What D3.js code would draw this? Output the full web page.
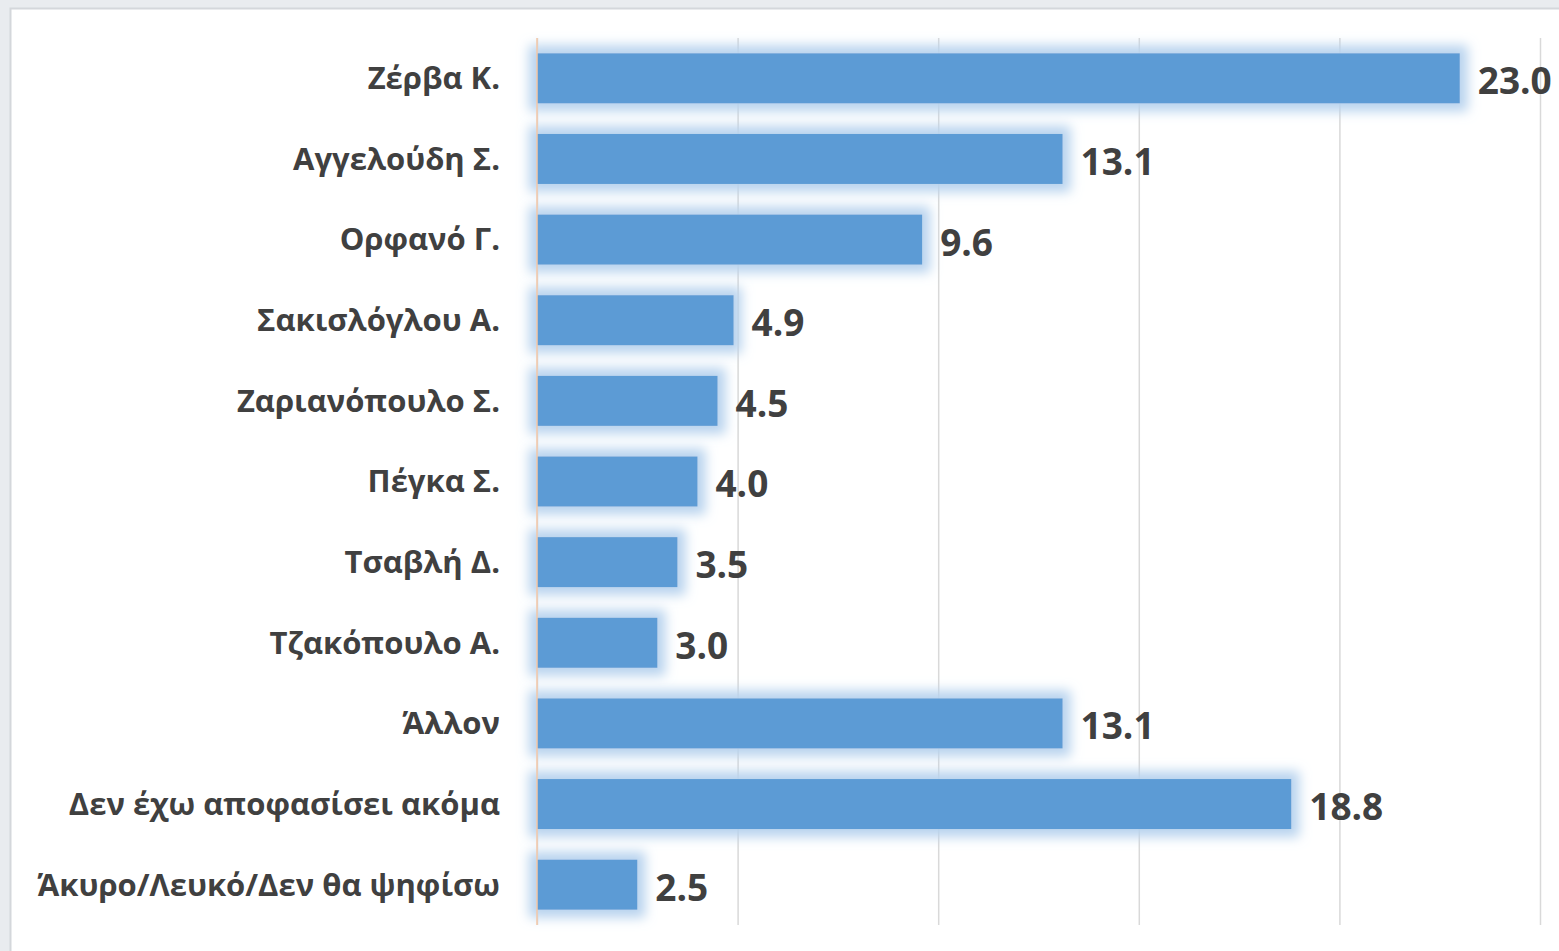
<!DOCTYPE html>
<html>
<head>
<meta charset="utf-8">
<script src="https://cdn.jsdelivr.net/npm/d3@7"></script>
<style>
  body { margin: 0; background: #e9ecef; }
  svg { display: block; }
</style>
</head>
<body>
<div id="chart"></div>
<script>
// Chart data
var names = ["Ζέρβα Κ.", "Αγγελούδη Σ.", "Ορφανό Γ.", "Σακισλόγλου Α.", "Ζαριανόπουλο Σ.",
  "Πέγκα Σ.", "Τσαβλή Δ.", "Τζακόπουλο Α.", "Άλλον", "Δεν έχω αποφασίσει ακόμα",
  "Άκυρο/Λευκό/Δεν θα ψηφίσω"];
var values = [23.0, 13.1, 9.6, 4.9, 4.5, 4.0, 3.5, 3.0, 13.1, 18.8, 2.5];
var gridTicks = [0, 5, 10, 15, 20, 25];

var width = 1559;
var height = 951;

var svg = d3.select("#chart")
  .append("svg")
  .attr("width", width)
  .attr("height", height);

// glow behind bars
var defs = svg.append("defs");
var glow = defs.append("filter")
  .attr("id", "glow")
  .attr("x", "-20%").attr("y", "-80%")
  .attr("width", "140%").attr("height", "260%");
glow.append("feMorphology")
  .attr("in", "SourceAlpha").attr("operator", "dilate").attr("radius", 8)
  .attr("result", "fat");
glow.append("feGaussianBlur").attr("in", "fat").attr("stdDeviation", 6).attr("result", "blur");
glow.append("feFlood").attr("flood-color", "#b8d3ee").attr("flood-opacity", 1);
glow.append("feComposite").attr("in2", "blur").attr("operator", "in").attr("result", "halo");
var merge = glow.append("feMerge");
merge.append("feMergeNode").attr("in", "halo");
merge.append("feMergeNode").attr("in", "SourceGraphic");

// white panel
svg.append("rect")
  .attr("x", 10.5).attr("y", 8.5)
  .attr("width", width).attr("height", height)
  .attr("fill", "#ffffff")
  .attr("stroke", "#d4d7db")
  .attr("stroke-width", 2);

var x = d3.scaleLinear().domain([0, 25]).range([537, 1540]);
var y = d3.scaleBand().domain(names).range([38, 925]).paddingInner(0.38).paddingOuter(0.19);

// gridlines
svg.append("g")
  .selectAll("line")
  .data(gridTicks)
  .enter()
  .append("line")
  .attr("x1", function(d) { return x(d) + 0.5; })
  .attr("x2", function(d) { return x(d) + 0.5; })
  .attr("y1", 38)
  .attr("y2", 925)
  .attr("stroke", "#d9d9d9")
  .attr("stroke-width", 1.5);

// bars
svg.append("g")
  .selectAll("rect")
  .data(values)
  .enter()
  .append("rect")
  .attr("x", x(0))
  .attr("y", function(d, i) { return y(names[i]); })
  .attr("width", function(d) { return x(d) - x(0); })
  .attr("height", y.bandwidth())
  .attr("fill", "#5b9bd5")
  .attr("filter", "url(#glow)");

// category axis line
svg.append("line")
  .attr("x1", x(0)).attr("x2", x(0))
  .attr("y1", 38).attr("y2", 925)
  .attr("stroke", "#f4c9a8")
  .attr("stroke-width", 1.5);

var font = "'Open Sans', 'Noto Sans', sans-serif";

// category labels
svg.append("g")
  .selectAll("text")
  .data(names)
  .enter()
  .append("text")
  .attr("x", 500)
  .attr("y", function(d) { return y(d) + y.bandwidth() / 2; })
  .attr("dy", "0.35em")
  .attr("text-anchor", "end")
  .attr("font-family", font)
  .attr("font-weight", "bold")
  .attr("font-size", 31)
  .attr("fill", "#404040")
  .text(function(d) { return d; });

// value labels
svg.append("g")
  .selectAll("text")
  .data(values)
  .enter()
  .append("text")
  .attr("x", function(d) { return x(d) + 18; })
  .attr("y", function(d, i) { return y(names[i]) + y.bandwidth() / 2 + 3; })
  .attr("dy", "0.35em")
  .attr("font-family", font)
  .attr("font-weight", "bold")
  .attr("font-size", 37)
  .attr("fill", "#404040")
  .text(function(d) { return d.toFixed(1); });
</script>
</body>
</html>
